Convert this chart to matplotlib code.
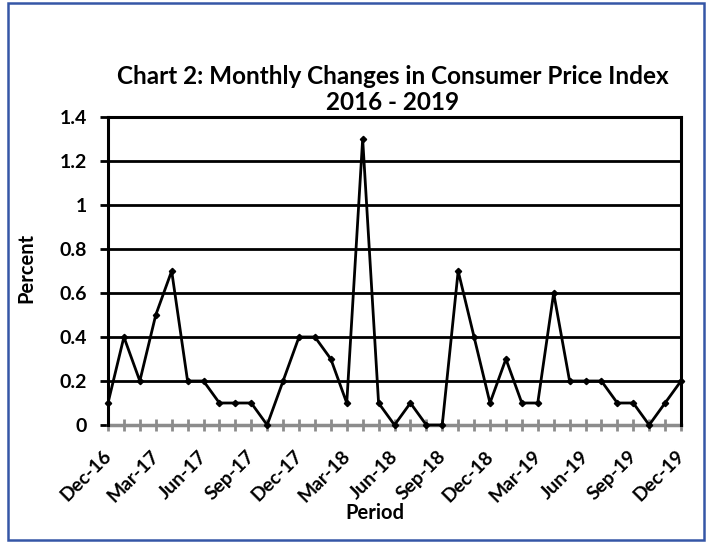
import matplotlib
matplotlib.use("Agg")
import matplotlib.pyplot as plt
from matplotlib.patches import Rectangle
from matplotlib.transforms import ScaledTranslation

periods = ["Dec-16", "Jan-17", "Feb-17", "Mar-17", "Apr-17", "May-17", "Jun-17", "Jul-17",
           "Aug-17", "Sep-17", "Oct-17", "Nov-17", "Dec-17", "Jan-18", "Feb-18", "Mar-18",
           "Apr-18", "May-18", "Jun-18", "Jul-18", "Aug-18", "Sep-18", "Oct-18", "Nov-18",
           "Dec-18", "Jan-19", "Feb-19", "Mar-19", "Apr-19", "May-19", "Jun-19", "Jul-19",
           "Aug-19", "Sep-19", "Oct-19", "Nov-19", "Dec-19"]
cpi_change = [0.1, 0.4, 0.2, 0.5, 0.7, 0.2, 0.2, 0.1, 0.1, 0.1, 0.0, 0.2, 0.4, 0.4, 0.3, 0.1,
              1.3, 0.1, 0.0, 0.1, 0.0, 0.0, 0.7, 0.4, 0.1, 0.3, 0.1, 0.1, 0.6, 0.2, 0.2, 0.2,
              0.1, 0.1, 0.0, 0.1, 0.2]
y_ticks = [0, 0.2, 0.4, 0.6, 0.8, 1, 1.2, 1.4]
y_tick_labels = ["0", "0.2", "0.4", "0.6", "0.8", "1", "1.2", "1.4"]

plt.rcParams['font.family'] = ['Lato', 'DejaVu Sans']

fig = plt.figure(figsize=(7.12, 5.43), dpi=100)
fig.patch.set_facecolor("white")
fig.patches.append(Rectangle((8/712, 3/543), 696/712, 537/543, transform=fig.transFigure,
                             fill=False, edgecolor="#3556A6", linewidth=1.8))

ax = fig.add_axes([108/712, 118/543, 573/712, 308/543])
x = list(range(len(periods)))
ax.plot(x, cpi_change, color="black", linewidth=2, marker="D", markersize=3.2, zorder=3,
        clip_on=False)

ax.set_xlim(0, len(periods) - 1)
ax.set_ylim(0, 1.4)
ax.set_yticks(y_ticks)
ax.set_yticklabels(y_tick_labels, fontsize=14, fontweight="bold")
for yv in y_ticks[1:-1]:
    ax.axhline(yv, color="black", linewidth=2, zorder=1)

ax.set_xticks(x[::3])
ax.set_xticklabels(periods[::3], rotation=45, ha="right", va="center", rotation_mode="anchor",
                   fontsize=13, fontweight="bold")
ax.set_xticks(x, minor=True)
ax.tick_params(axis="x", which="both", direction="inout", length=9, width=2, color="#8c8c8c",
               pad=10)
ax.tick_params(axis="y", direction="out", length=6, width=2, color="black", pad=9)

for side in ["top", "left", "right"]:
    ax.spines[side].set_linewidth(2.2)
    ax.spines[side].set_color("black")
ax.spines["bottom"].set_linewidth(2.5)
ax.spines["bottom"].set_color("#8c8c8c")
ax.spines["bottom"].set_zorder(2)

ax.set_ylabel("Percent", fontsize=14.5, fontweight="bold")
ax.yaxis.set_label_coords(-0.143, 0.51)
ax.set_xlabel("Period", fontsize=14.5, fontweight="bold")
ax.xaxis.set_label_coords(0.466, -0.285)
ax.xaxis.label.set_va("center")
ax.yaxis.label.set_va("center")

fig.text(393/712, 1 - 77/543, "Chart 2: Monthly Changes in Consumer Price Index",
         ha="center", va="center", fontsize=17.5, fontweight="bold")
fig.text(393/712, 1 - 102/543, "2016 - 2019", ha="center", va="center",
         fontsize=17.5, fontweight="bold")

# fit first x tick label box to the reference footprint (size and centre)
fig.canvas.draw()
renderer = fig.canvas.get_renderer()
xlabels = ax.get_xticklabels()
bb = xlabels[0].get_window_extent(renderer)
scale = 58.0 / bb.width
for lbl in xlabels:
    lbl.set_fontsize(lbl.get_fontsize() * scale)
fig.canvas.draw()
bb = xlabels[0].get_window_extent(renderer)
dx = 86.0 - (bb.x0 + bb.x1) / 2
dy = (543 - 476.0) - (bb.y0 + bb.y1) / 2
shift = ScaledTranslation(dx / fig.dpi, dy / fig.dpi, fig.dpi_scale_trans)
for lbl in xlabels:
    lbl.set_transform(lbl.get_transform() + shift)

fig.savefig("out.png", dpi=100, facecolor="white")
